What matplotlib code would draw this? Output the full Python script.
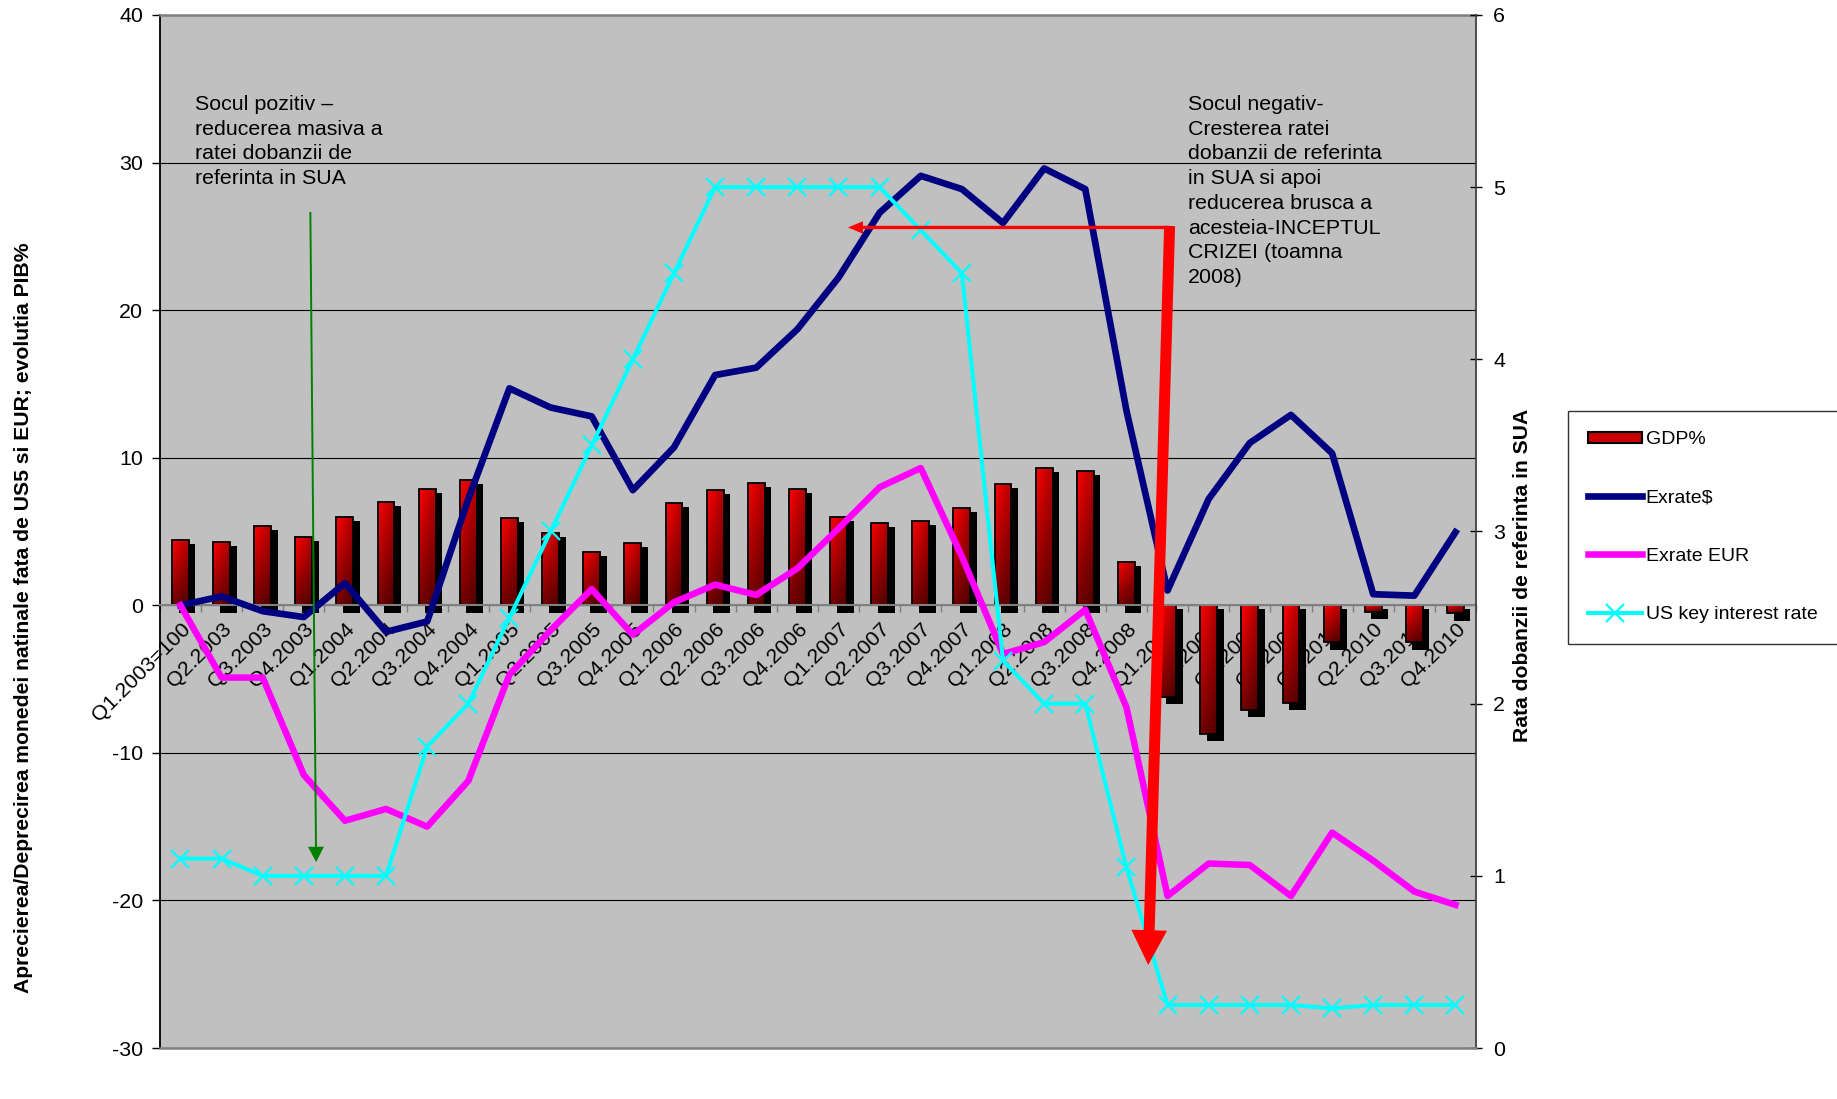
"""GDP%, exchange rates vs USD/EUR and US key interest rate, 2003-2010."""
import numpy as np
import matplotlib
matplotlib.use("Agg")
import matplotlib.pyplot as plt
from matplotlib.patches import FancyArrowPatch, Patch
from matplotlib.lines import Line2D

plt.rcParams["font.family"] = ["Liberation Sans", "DejaVu Sans"]
plt.rcParams["axes.unicode_minus"] = False

quarters = [
    "Q1.2003=100", "Q2.2003", "Q3.2003", "Q4.2003",
    "Q1.2004", "Q2.2004", "Q3.2004", "Q4.2004",
    "Q1.2005", "Q2.2005", "Q3.2005", "Q4.2005",
    "Q1.2006", "Q2.2006", "Q3.2006", "Q4.2006",
    "Q1.2007", "Q2.2007", "Q3.2007", "Q4.2007",
    "Q1.2008", "Q2.2008", "Q3.2008", "Q4.2008",
    "Q1.2009", "Q2.2009", "Q3.2009", "Q4.2009",
    "Q1.2010", "Q2.2010", "Q3.2010", "Q4.2010",
]
gdp = [4.4, 4.3, 5.4, 4.6, 6.0, 7.0, 7.9, 8.5, 5.9, 4.9, 3.6, 4.2,
       6.9, 7.8, 8.3, 7.9, 6.0, 5.6, 5.7, 6.6, 8.2, 9.3, 9.1, 2.9,
       -6.2, -8.7, -7.1, -6.6, -2.5, -0.45, -2.5, -0.55]
exrate_usd = [0.0, 0.6, -0.4, -0.8, 1.5, -1.8, -1.1, 7.2, 14.7, 13.4, 12.8, 7.8,
              10.7, 15.6, 16.1, 18.7, 22.2, 26.6, 29.1, 28.2, 25.9, 29.6, 28.2, 13.2,
              1.0, 7.2, 11.0, 12.9, 10.3, 0.75, 0.65, 4.95]
exrate_eur = [0.0, -4.9, -4.9, -11.5, -14.6, -13.8, -15.0, -11.9, -4.7, -1.7, 1.1, -2.0,
              0.2, 1.4, 0.7, 2.5, 5.2, 8.0, 9.3, 3.3, -3.3, -2.5, -0.3, -6.9,
              -19.7, -17.5, -17.6, -19.7, -15.4, -17.3, -19.4, -20.3]
us_rate = [1.1, 1.1, 1.0, 1.0, 1.0, 1.0, 1.75, 2.0, 2.5, 3.0, 3.5, 4.0,
           4.5, 5.0, 5.0, 5.0, 5.0, 5.0, 4.75, 4.5, 2.25, 2.0, 2.0, 1.05,
           0.25, 0.25, 0.25, 0.25, 0.23, 0.25, 0.25, 0.25]

_PLOT_BG = "#c0c0c0"
_NAVY = "#000080"
_MAGENTA = "#ff00ff"
_CYAN = "#00ffff"
_FS = 15.4

BAR_W = 0.41
SHADOW_DX = 0.16
SHADOW_DT = 0.27   # shadow top drop (left-axis units)
SHADOW_DB = 0.50   # shadow bottom drop

fig = plt.figure(figsize=(18.37, 10.99), dpi=100)
ax = fig.add_axes([0.087, 0.0464, 0.7165, 0.94])
ax.set_facecolor(_PLOT_BG)

x = np.arange(len(quarters))
g = np.array(gdp)
lo = np.minimum(g, 0)
hi = np.maximum(g, 0)

# black "3D" shadow behind each bar
ax.bar(x + SHADOW_DX, hi - lo + SHADOW_DB - SHADOW_DT, width=BAR_W,
       bottom=lo - SHADOW_DB, color="black", zorder=2)
bars = ax.bar(x, g, width=BAR_W, facecolor="none", edgecolor="black",
              linewidth=1.3, zorder=2.4)

tv = np.linspace(0, 1, 64)[:, None]
th = np.linspace(0, 1, 16)[None, :]
red = (1.0 - 0.55 * tv) * (1.0 - 0.3 * th)
grad = np.dstack([red, np.zeros_like(red), np.zeros_like(red)])
for b in bars:
    x0, w = b.get_x(), b.get_width()
    y0, h = b.get_y(), b.get_height()
    im = ax.imshow(grad, extent=[x0, x0 + w, min(y0, y0 + h), max(y0, y0 + h)],
                   origin="upper", aspect="auto", interpolation="bilinear",
                   zorder=2.2)
    im.set_clip_path(b)

ax.plot(x, exrate_usd, color=_NAVY, lw=4.8, zorder=3)
ax.plot(x, exrate_eur, color=_MAGENTA, lw=4.7, zorder=3.1)

ax.set_xlim(-0.5, len(quarters) - 0.5)
ax.set_ylim(-30, 40)
ax.set_yticks(range(-30, 41, 10))
ax.yaxis.grid(True, color="black", lw=0.8)
ax.set_axisbelow(True)

# category axis sits on the zero line
ax.spines["bottom"].set_position(("data", 0))
ax.spines["bottom"].set_color("#808080")
ax.spines["bottom"].set_linewidth(1.5)
ax.spines["right"].set_visible(False)
ax.spines["top"].set_color("#808080")
ax.spines["top"].set_linewidth(1.8)
ax.spines["left"].set_color("black")
ax.spines["left"].set_linewidth(1.3)
ax.set_xticks(x, quarters, rotation=45, ha="right", rotation_mode="anchor",
              fontsize=_FS)
ax.set_xticks(np.arange(-0.5, len(quarters), 1.0), minor=True)
ax.tick_params(axis="x", which="major", length=0, pad=10)
ax.tick_params(axis="x", which="minor", length=5, width=1, color="#808080",
               direction="out")
ax.tick_params(axis="y", length=5.5, width=1, direction="out", pad=6.5,
               labelsize=_FS)

ax2 = ax.twinx()
ax2.plot(x, us_rate, color=_CYAN, lw=2.9, marker="x", ms=13, mew=1.6, zorder=3)
ax2.spines["left"].set_visible(False)
ax2.spines["top"].set_visible(False)
ax2.spines["bottom"].set_color("#808080")
ax2.spines["bottom"].set_linewidth(1.8)
ax2.spines["right"].set_color("#404040")
ax2.spines["right"].set_linewidth(1.3)
ax2.tick_params(axis="y", length=8.5, width=1, direction="inout", pad=8,
                labelsize=_FS)

# arrows (drawn in left-axis data coords, on top of everything)
green = FancyArrowPatch(
    (3.16, 26.65), (3.30, -17.4), transform=ax.transData,
    arrowstyle="simple,head_length=11,head_width=11.5,tail_width=1.4",
    mutation_scale=1, color="#008000", lw=0, shrinkA=0, shrinkB=0, zorder=5)
ax2.add_patch(green)
red_h = FancyArrowPatch(
    (24.05, 25.6), (16.23, 25.6), transform=ax.transData,
    arrowstyle="simple,head_length=10.8,head_width=9,tail_width=2.4",
    mutation_scale=1, color="#ff0000", lw=0, shrinkA=0, shrinkB=0, zorder=5)
ax2.add_patch(red_h)
red_v = FancyArrowPatch(
    (24.05, 25.7), (23.53, -24.37), transform=ax.transData,
    arrowstyle="simple,head_length=25,head_width=25.7,tail_width=7.9",
    mutation_scale=1, color="#ff0000", lw=0, shrinkA=0, shrinkB=0, zorder=5)
ax2.add_patch(red_v)
ax2.set_xlim(-0.5, len(quarters) - 0.5)
ax2.set_ylim(0, 6)
ax2.set_yticks(range(0, 7))

fig.text(23.4 / 1837, 1 - 618 / 1099,
         "Aprecierea/Deprecirea monedei natinale fata de US5 si EUR; evolutia PIB%",
         rotation=90, ha="center", va="center", fontsize=15.2, fontweight="bold")
fig.text(1523 / 1837, 1 - 575 / 1099, "Rata dobanzii de referinta in SUA",
         rotation=90, ha="center", va="center", fontsize=15.2, fontweight="bold")

fig.text(195 / 1837, 1 - 95 / 1099,
         "Socul pozitiv \u2013\nreducerea masiva a\nratei dobanzii de\nreferinta in SUA",
         ha="left", va="top", fontsize=_FS, linespacing=1.38)
fig.text(1188 / 1837, 1 - 95 / 1099,
         "Socul negativ-\nCresterea ratei\ndobanzii de referinta\nin SUA si apoi\n"
         "reducerea brusca a\nacesteia-INCEPTUL\nCRIZEI (toamna\n2008)",
         ha="left", va="top", fontsize=_FS, linespacing=1.38)

handles = [
    Patch(facecolor="#c80000", edgecolor="black", linewidth=1.5),
    Line2D([], [], color=_NAVY, lw=4.8),
    Line2D([], [], color=_MAGENTA, lw=4.7),
    Line2D([], [], color=_CYAN, lw=2.9, marker="x", ms=13, mew=1.6),
]
leg = fig.legend(handles, ["GDP%", "Exrate$", "Exrate EUR", "US key interest rate"],
                 loc="upper left", bbox_to_anchor=(1568 / 1837, 1 - 411 / 1099),
                 bbox_transform=fig.transFigure, borderaxespad=0,
                 frameon=True, fancybox=False, edgecolor="black", facecolor="white",
                 fontsize=14, borderpad=1.05, labelspacing=2.12,
                 handlelength=2.75, handletextpad=0.2, handleheight=0.55)
leg.get_frame().set_linewidth(1.0)

fig.savefig("out.png", dpi=100, facecolor="white")
